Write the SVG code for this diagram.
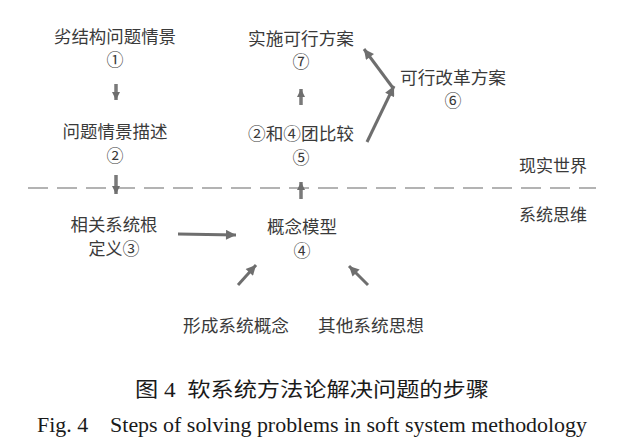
<svg xmlns="http://www.w3.org/2000/svg" width="641" height="447" viewBox="0 0 641 447">
<defs>
<style>
.t{font-family:"Noto Sans CJK SC","Liberation Serif",serif;font-size:17px;fill:#3a3a3a;text-anchor:middle}
.cap{font-family:"Liberation Serif","Noto Sans CJK SC",serif;fill:#1a1a1a}
.c{stroke:#6e6e6e;stroke-width:3;fill:none}
.s{stroke:#7a7a7a;stroke-width:3.5;fill:none}
.d{stroke:#9a9a9a;stroke-width:1.5;stroke-dasharray:20 9;fill:none}
</style>
<marker id="ah" viewBox="0 0 10 10" refX="10" refY="5" markerWidth="11" markerHeight="10" markerUnits="userSpaceOnUse" orient="auto">
<path d="M0,0 L10,5 L0,10 z" fill="#6e6e6e"/>
</marker>
<marker id="sh" viewBox="0 0 10 10" refX="10" refY="5" markerWidth="8" markerHeight="9" markerUnits="userSpaceOnUse" orient="auto">
<path d="M0,0 L10,5 L0,10 z" fill="#6e6e6e"/>
</marker>
</defs>
<rect width="641" height="447" fill="#ffffff"/>
<g id="connectors">
<line class="d" x1="28" y1="188" x2="596" y2="188"/>
<line class="s" x1="116" y1="84" x2="116" y2="100" marker-end="url(#sh)"/>
<line class="s" x1="116" y1="175" x2="116" y2="194" marker-end="url(#sh)"/>
<line class="s" x1="301" y1="105" x2="301" y2="89" marker-end="url(#sh)"/>
<line class="s" x1="301" y1="199" x2="301" y2="182" marker-end="url(#sh)"/>
<line class="c" x1="367" y1="142" x2="394" y2="86" marker-end="url(#ah)"/>
<line class="c" x1="393" y1="88" x2="364" y2="49" marker-end="url(#ah)"/>
<line class="c" x1="178" y1="234" x2="236" y2="235" marker-end="url(#ah)"/>
<line class="c" x1="238" y1="285" x2="256" y2="265" marker-end="url(#ah)"/>
<line class="c" x1="368" y1="285" x2="349" y2="266" marker-end="url(#ah)"/>
</g>
<g id="n1"><text class="t" x="115" y="43" textLength="122" lengthAdjust="spacingAndGlyphs">劣结构问题情景</text><text class="t" x="115" y="66">①</text></g>
<g id="n2"><text class="t" x="115" y="138" textLength="105" lengthAdjust="spacingAndGlyphs">问题情景描述</text><text class="t" x="115" y="162">②</text></g>
<g id="n3"><text class="t" x="114" y="231" textLength="87" lengthAdjust="spacingAndGlyphs">相关系统根</text><text class="t" x="114" y="255">定义③</text></g>
<g id="n4"><text class="t" x="302" y="233" textLength="70" lengthAdjust="spacingAndGlyphs">概念模型</text><text class="t" x="302" y="257">④</text></g>
<g id="n5"><text class="t" x="301" y="140" textLength="106" lengthAdjust="spacingAndGlyphs">②和④团比较</text><text class="t" x="301" y="164">⑤</text></g>
<g id="n6"><text class="t" x="453" y="84" textLength="106" lengthAdjust="spacingAndGlyphs">可行改革方案</text><text class="t" x="453" y="107">⑥</text></g>
<g id="n7"><text class="t" x="301" y="45" textLength="106" lengthAdjust="spacingAndGlyphs">实施可行方案</text><text class="t" x="301" y="68">⑦</text></g>
<g id="n8"><text class="t" x="236" y="332" textLength="106" lengthAdjust="spacingAndGlyphs">形成系统概念</text></g>
<g id="n9"><text class="t" x="371" y="332" textLength="106" lengthAdjust="spacingAndGlyphs">其他系统思想</text></g>
<g id="zones"><text class="t" x="553" y="172">现实世界</text><text class="t" x="553" y="221">系统思维</text></g>
<g id="caption">
<text class="cap" x="135" y="397" font-size="20" textLength="354" lengthAdjust="spacingAndGlyphs" font-family="'Noto Sans CJK SC',serif" xml:space="preserve">图 4  软系统方法论解决问题的步骤</text>
<text class="cap" x="37" y="432" font-size="20" textLength="550" lengthAdjust="spacingAndGlyphs" xml:space="preserve">Fig. 4    Steps of solving problems in soft system methodology</text>
</g>
</svg>
